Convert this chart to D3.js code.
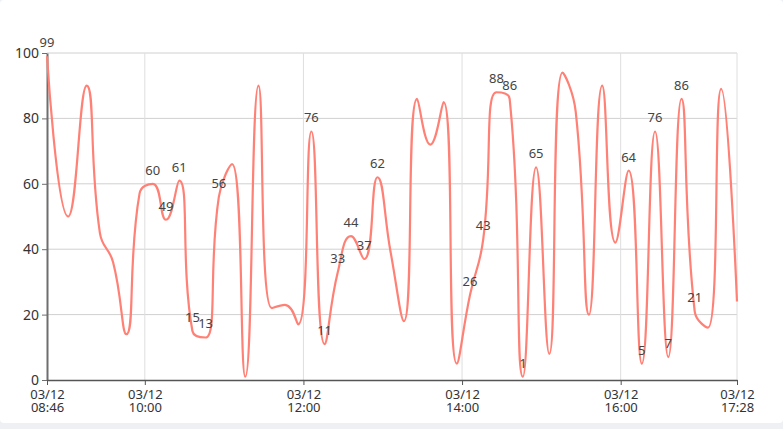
<!DOCTYPE html>
<html>
<head>
<meta charset="utf-8">
<script src="https://cdn.jsdelivr.net/npm/d3@7"></script>
<style>
  body { margin: 0; background: #eef0f4; font-family: "Noto Sans", "Open Sans", sans-serif; }
  #chart { width: 783px; height: 423px; background: #fff; border-radius: 4px; }
</style>
</head>
<body>
<div id="chart"></div>
<script>
// readings, every ~10 minutes on 03/12
const times = ["08:46","09:02","09:16","09:26","09:36","09:46","09:56","10:06","10:16","10:26",
  "10:36","10:46","10:56","11:06","11:16","11:26","11:36","11:46","11:56","12:06",
  "12:16","12:26","12:36","12:46","12:56","13:06","13:16","13:26","13:36","13:46",
  "13:56","14:06","14:16","14:26","14:36","14:46","14:56","15:06","15:16","15:26",
  "15:36","15:46","15:56","16:06","16:16","16:26","16:36","16:46","16:56","17:06",
  "17:16","17:28"];
const values = [99,50,90,45,36,14,57,60,49,61,
  15,13,56,66,1,90,22,23,17,76,
  11,33,44,37,62,39,18,86,72,85,
  5,26,43,88,86,1,65,8,94,82,
  20,90,42,64,5,76,7,86,21,16,
  89,24];
// points whose value label is shown
const labelled = [0,7,8,9,10,11,12,19,20,21,22,23,24,31,32,33,34,35,36,43,44,45,46,47,48];
const xTicks = ["08:46","10:00","12:00","14:00","16:00","17:28"];
const yTicks = [0,20,40,60,80,100];
const day = "03/12";

const width = 783, height = 423;
const margin = {top: 53, right: 46, bottom: 43, left: 47};
const lineColor = "#ff8176";

const parse = d3.timeParse("%m/%d %H:%M");
const data = times.map((t, i) => ({t: parse(day + " " + t), v: values[i], i: i}));

const x = d3.scaleTime()
  .domain(d3.extent(data, d => d.t))
  .range([margin.left, width - margin.right]);
const y = d3.scaleLinear()
  .domain([0, 100])
  .range([height - margin.bottom, margin.top]);

const svg = d3.select("#chart").append("svg")
  .attr("width", width)
  .attr("height", height);

// smoothing like the original chart: bezier with control points kept inside neighbours
function clamp(v, a, b) { return Math.max(Math.min(v, Math.max(a, b)), Math.min(a, b)); }
function curveSmooth(ctx) {
  let pts;
  const smooth = 0.5;
  return {
    areaStart() {}, areaEnd() {},
    lineStart() { pts = []; },
    point(px, py) { pts.push([+px, +py]); },
    lineEnd() {
      let cpx0, cpy0, prevX, prevY;
      pts.forEach(([px, py], i) => {
        if (i === 0) {
          ctx.moveTo(px, py); cpx0 = px; cpy0 = py;
        } else {
          let cpx1 = px, cpy1 = py, ncx = px, ncy = py;
          if (i < pts.length - 1) {
            const [nx, ny] = pts[i + 1];
            let vx = nx - prevX, vy = ny - prevY;
            const lp = Math.hypot(px - prevX, py - prevY);
            const ln = Math.hypot(nx - px, ny - py);
            const r = ln / (ln + lp);
            ncx = clamp(px + vx * smooth * r, px, nx);
            ncy = clamp(py + vy * smooth * r, py, ny);
            vx = ncx - px; vy = ncy - py;
            cpx1 = clamp(px - vx * lp / ln, prevX, px);
            cpy1 = clamp(py - vy * lp / ln, prevY, py);
            vx = px - cpx1; vy = py - cpy1;
            ncx = px + vx * ln / lp; ncy = py + vy * ln / lp;
          }
          ctx.bezierCurveTo(cpx0, cpy0, cpx1, cpy1, px, py);
          cpx0 = ncx; cpy0 = ncy;
        }
        prevX = px; prevY = py;
      });
    }
  };
}

const xTickDates = xTicks.map(t => parse(day + " " + t));

// grid
svg.append("g")
  .selectAll("line")
  .data(yTicks.slice(1))
  .join("line")
  .attr("x1", margin.left).attr("x2", width - margin.right)
  .attr("y1", d => y(d)).attr("y2", d => y(d))
  .attr("stroke", "#d0d0d0");
svg.append("g")
  .selectAll("line")
  .data(xTickDates.slice(1))
  .join("line")
  .attr("x1", d => x(d)).attr("x2", d => x(d))
  .attr("y1", margin.top).attr("y2", height - margin.bottom)
  .attr("stroke", "#dedede");

// axes
const yAxis = svg.append("g")
  .attr("transform", `translate(${margin.left},0)`)
  .call(d3.axisLeft(y).tickValues(yTicks).tickSize(5).tickSizeOuter(0).tickPadding(3));
yAxis.select(".domain").attr("stroke", "#6e6e6e").attr("stroke-width", 2);
yAxis.selectAll(".tick line").attr("stroke", "#6e6e6e");
yAxis.selectAll("text").attr("font-size", 14).attr("fill", "#333")
  .attr("font-family", "'Noto Sans', sans-serif");

const xAxis = svg.append("g")
  .attr("transform", `translate(0,${height - margin.bottom})`)
  .call(d3.axisBottom(x).tickValues(xTickDates).tickSize(5).tickSizeOuter(0).tickFormat(""));
xAxis.select(".domain").attr("stroke", "#555").attr("stroke-width", 1.5);
xAxis.selectAll(".tick line").attr("stroke", "#555");
// two-line tick label: date over time
xAxis.selectAll(".tick text").each(function(d, i) {
  const t = d3.select(this)
    .attr("y", 19).attr("dy", 0)
    .attr("font-size", 13)
    .attr("font-family", "'Noto Sans', sans-serif")
    .attr("fill", "#333");
  t.append("tspan").attr("x", 0).text(day);
  t.append("tspan").attr("x", 0).attr("dy", 13).text(xTicks[i]);
});

// line
const line = d3.line()
  .x(d => x(d.t))
  .y(d => y(d.v))
  .curve(curveSmooth);

svg.append("path")
  .datum(data)
  .attr("d", line)
  .attr("fill", "none")
  .attr("stroke", lineColor)
  .attr("stroke-width", 2.2);

// value labels
svg.append("g")
  .selectAll("text")
  .data(data.filter(d => labelled.includes(d.i)))
  .join("text")
  .attr("x", d => x(d.t))
  .attr("y", d => y(d.v) - 9)
  .attr("text-anchor", "middle")
  .attr("font-size", 13)
  .attr("fill", "#444")
  .text(d => d.v);
</script>
</body>
</html>
